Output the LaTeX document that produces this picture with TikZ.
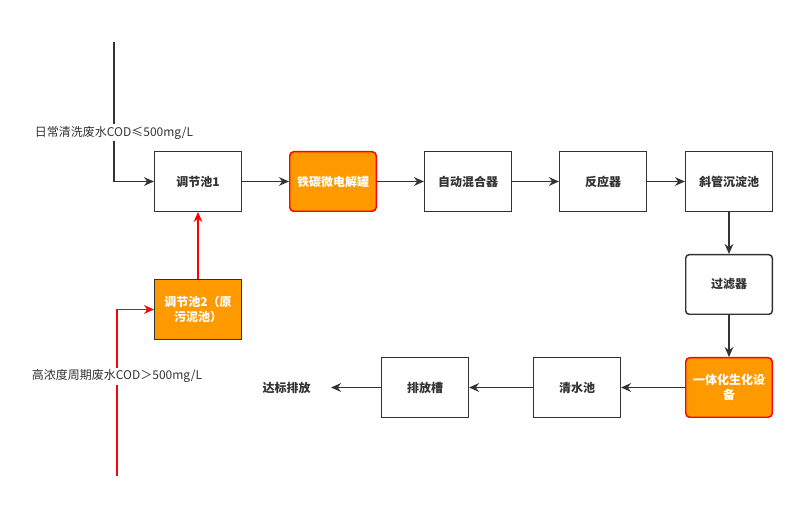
\documentclass[tikz,border=0pt]{standalone}
\usepackage{fontspec}
\setmainfont{Noto Sans CJK SC}
\usepackage{tikz}
\usetikzlibrary{positioning,arrows.meta}
\definecolor{linegray}{RGB}{51,51,51}
\definecolor{tankorange}{RGB}{255,153,0}
\definecolor{tankred}{RGB}{255,0,0}
\tikzset{
  tank/.style={rectangle,draw=linegray,line width=1.1pt,align=center,minimum width=64.9pt,minimum height=44.65pt,fill=white,text=linegray,font=\fontsize{9}{11}\selectfont\bfseries},
  softtank/.style={tank,rounded corners=2.5pt},
  hottank/.style={tank,rounded corners=3pt,draw=tankred,fill=tankorange,text=white},
  sludgetank/.style={tank,fill=tankorange,text=white},
  endlbl/.style={inner xsep=15pt,text=linegray,font=\fontsize{9}{11}\selectfont\bfseries},
  lbl/.style={fill=white,inner sep=1.5pt,text=linegray,font=\fontsize{9}{11}\selectfont},
  edge/.style={-{Stealth[length=7.5pt,width=6.5pt]},line width=1.1pt,draw=linegray},
  redge/.style={-{Stealth[length=7.5pt,width=6.5pt]},line width=1.1pt,draw=tankred}
}
\begin{document}
\begin{tikzpicture}
  \useasboundingbox (0,0) rectangle (600pt,-378.75pt);
  % top row
  \node[tank] (tj1) at (148.5pt,-136.125pt) {调节池1};
  \node[hottank,right=35.25pt of tj1] (tt) {铁碳微电解罐};
  \node[tank,right=35.25pt of tt] (hh) {自动混合器};
  \node[tank,right=35.25pt of hh] (fy) {反应器};
  \node[tank,right=28.5pt of fy] (xg) {斜管沉淀池};
  % right column and bottom row
  \node[softtank,below=31.5pt of xg] (gl) {过滤器};
  \node[hottank,below=31.5pt of gl] (yt) {一体化生化设\\备};
  \node[tank,left=48pt of yt] (qs) {清水池};
  \node[tank,left=48pt of qs] (pf) {排放槽};
  \node[endlbl,left=37.5pt of pf] (out) {达标排放};
  \node[sludgetank,below=50.25pt of tj1] (tj2) {调节池2（原\\污泥池）};
  % inflows
  \coordinate (in1) at (85.5pt,-31.5pt);
  \coordinate (in2) at (87.75pt,-357pt);
  \draw[edge] (in1) -- node[lbl,pos=0.65] {日常清洗废水COD≤500mg/L} (in1 |- tj1) -- (tj1);
  \draw[redge] (in2) -- node[lbl,pos=0.6] {高浓度周期废水COD＞500mg/L} (in2 |- tj2) -- (tj2);
  \draw[redge] (tj2) -- (tj1);
  % process chain
  \draw[edge] (tj1) -- (tt);
  \draw[edge] (tt) -- (hh);
  \draw[edge] (hh) -- (fy);
  \draw[edge] (fy) -- (xg);
  \draw[edge] (xg) -- (gl);
  \draw[edge] (gl) -- (yt);
  \draw[edge] (yt) -- (qs);
  \draw[edge] (qs) -- (pf);
  \draw[edge] (pf) -- (out);
\end{tikzpicture}
\end{document}
